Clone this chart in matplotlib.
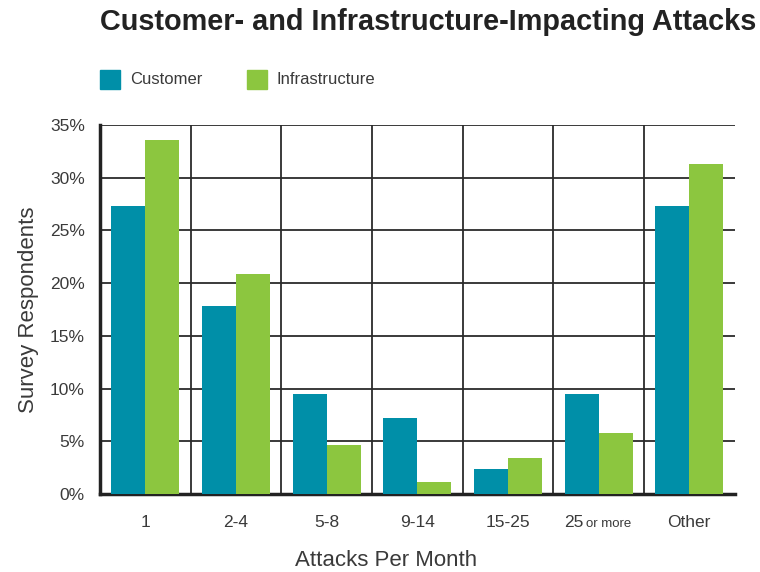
import numpy as np
import matplotlib.pyplot as plt
from matplotlib.patches import Rectangle
from matplotlib.transforms import offset_copy

plt.rcParams['font.family'] = ['Liberation Sans', 'DejaVu Sans']

# data (% of survey respondents)
categories = ['1', '2-4', '5-8', '9-14', '15-25', '25 or more', 'Other']
customer = [27.3, 17.8, 9.5, 7.2, 2.4, 9.5, 27.3]
infrastructure = [33.6, 20.9, 4.6, 1.1, 3.4, 5.8, 31.3]
y_ticks = [0, 5, 10, 15, 20, 25, 30, 35]

teal = '#008FA8'
green = '#8CC63F'
text_col = '#3a3a3a'
grid_col = '#2b2b2b'

fig = plt.figure(figsize=(7.6, 5.72), dpi=100)
ax = fig.add_axes([0.1316, 0.1364, 0.835, 0.645])

x = np.arange(len(categories))
w = 0.375
ax.bar(x - w / 2, customer, w, color=teal, zorder=3)
ax.bar(x + w / 2, infrastructure, w, color=green, zorder=3)

ax.set_xlim(-0.5, len(categories) - 0.5)
ax.set_ylim(0, 35)
ax.set_yticks(y_ticks)
ax.set_yticklabels([f'{v}%' for v in y_ticks], fontsize=12.5, color=text_col)

# horizontal grid at every 5 %, vertical lines between categories
for v in y_ticks[1:]:
    ax.axhline(v, color=grid_col, lw=1.3, zorder=1)
for b in x[1:] - 0.5:
    ax.axvline(b, color=grid_col, lw=1.3, zorder=1)

ax.set_xticks(x)
labels = list(categories)
labels[5] = ''
ax.set_xticklabels(labels, fontsize=12.5, color=text_col)
ax.tick_params(axis='both', length=0)
ax.tick_params(axis='x', pad=15)
ax.tick_params(axis='y', pad=11)

# "25 or more" with the small "or more"
trans = ax.get_xaxis_transform()
ax.text(5 - 0.17, 0, '25', transform=offset_copy(trans, fig, y=-15, units='points'),
        ha='right', va='top', fontsize=12.5, color=text_col)
ax.text(5 - 0.14, 0, 'or more', transform=offset_copy(trans, fig, y=-17, units='points'),
        ha='left', va='top', fontsize=9.5, color=text_col)

for s in ['top', 'right']:
    ax.spines[s].set_visible(False)
ax.spines['left'].set_linewidth(2.5)
ax.spines['bottom'].set_linewidth(2.5)
ax.spines['left'].set_color('#222222')
ax.spines['bottom'].set_color('#222222')

fig.text(386 / 760, 1 - 561 / 572, 'Attacks Per Month', fontsize=16, color=text_col,
         ha='center', va='center')
ax.set_ylabel('Survey Respondents', fontsize=16, color=text_col, labelpad=8)

fig.text(0.1316, 0.961, 'Customer- and Infrastructure-Impacting Attacks',
         fontsize=20.8, fontweight='bold', color='#222222', va='center', ha='left')

# legend
fig.patches.append(Rectangle((100 / 760, 1 - 89 / 572), 20 / 760, 19 / 572,
                             transform=fig.transFigure, color=teal))
fig.text(130 / 760, 1 - 80 / 572, 'Customer', fontsize=12, color=text_col, va='center')
fig.patches.append(Rectangle((247 / 760, 1 - 89 / 572), 20 / 760, 19 / 572,
                             transform=fig.transFigure, color=green))
fig.text(277 / 760, 1 - 80 / 572, 'Infrastructure', fontsize=12, color=text_col, va='center')

fig.savefig('out.png', dpi=100)
